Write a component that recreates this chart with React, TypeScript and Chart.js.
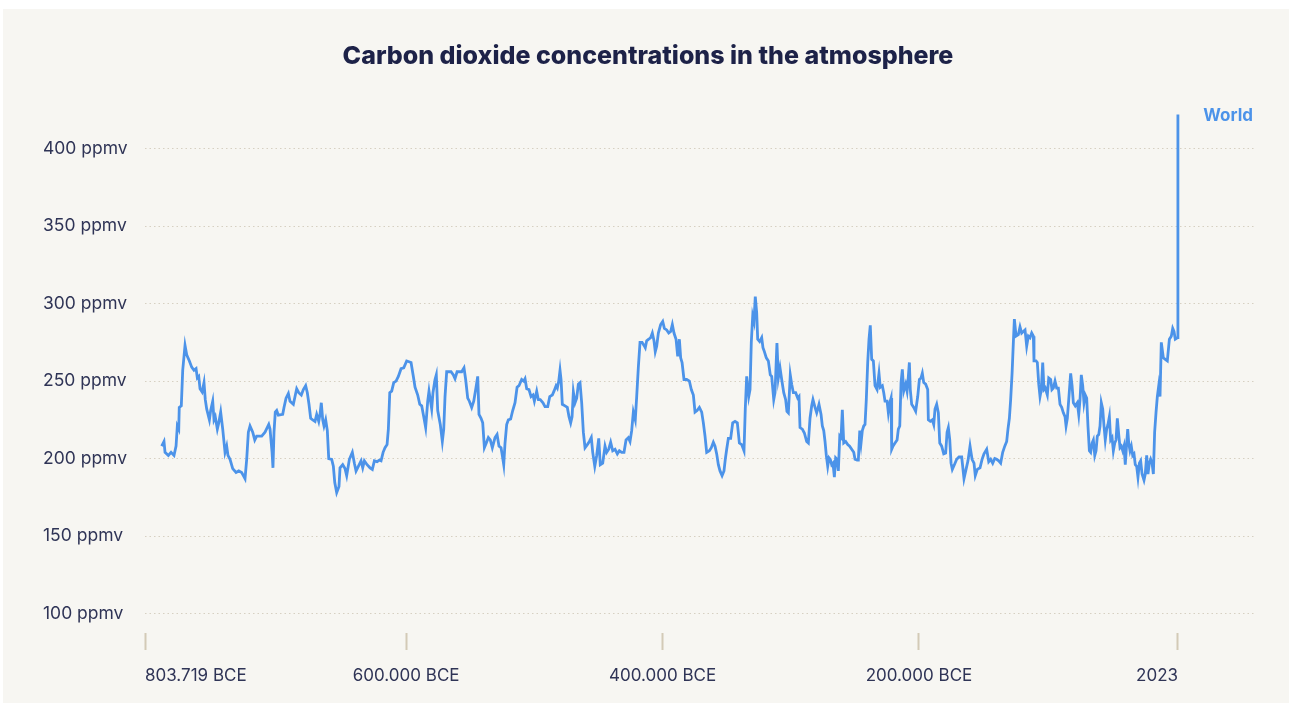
import { useEffect, useRef } from "react";
import { Chart, registerables } from "chart.js";

Chart.register(...registerables);

const chartTitle = "Carbon dioxide concentrations in the atmosphere";
const seriesName = "World";

const years: number[] = [
  -790700, -788900, -788100, -785500, -783400, -781100, -779500, -778500, -777400, -777000,
  -775400, -774300, -772500, -771200, -769100, -767300, -765500, -763900, -762900, -761800,
  -760800, -759200, -757700, -756700, -755600, -753500, -752500, -750900, -749900, -748900,
  -747300, -746200, -744700, -743100, -741300, -740000, -739000, -737400, -735300, -732700,
  -730600, -728300, -727000, -725700, -724400, -723100, -721800, -719700, -718100, -716600,
  -712700, -710100, -707200, -706200, -704600, -703900, -703100, -702100, -701000, -699700,
  -696300, -695300, -693700, -691900, -690600, -688000, -686700, -685400, -683800, -681800,
  -680200, -678400, -677100, -675800, -674500, -672900, -671100, -669800, -668200, -667200,
  -666200, -665100, -664100, -662800, -661500, -660400, -658100, -656800, -655700, -654200,
  -652400, -651600, -649500, -647700, -646400, -644300, -642000, -640400, -639100, -637300,
  -635200, -633900, -632600, -630500, -628200, -626400, -624800, -622700, -620900, -619600,
  -618000, -616500, -614900, -613900, -612800, -611300, -609700, -607900, -606100, -604000,
  -601900, -599600, -597800, -596200, -594400, -593100, -591000, -589400, -587900, -586300,
  -584800, -583200, -582200, -581200, -580100, -579100, -577500, -576500, -575400, -573400,
  -571800, -570700, -569700, -568400, -566600, -565000, -563200, -561900, -560300, -558800,
  -556700, -554900, -553600, -552000, -550700, -548900, -547300, -545500, -544200, -543200,
  -541600, -540300, -539000, -537500, -535900, -534400, -532800, -530700, -529100, -527600,
  -526000, -525000, -523900, -522900, -521600, -520300, -518500, -516900, -515100, -513500,
  -512000, -509900, -508300, -507300, -506000, -504200, -502600, -501100, -500000, -498200,
  -496900, -495400, -493300, -491700, -489600, -488000, -486000, -484700, -483100, -482100,
  -481000, -480000, -479200, -478200, -476100, -474300, -473000, -471700, -470600, -469600,
  -468300, -467000, -465700, -464400, -463100, -461800, -460500, -458700, -457100, -455600,
  -454500, -452900, -451400, -449800, -448600, -446700, -444900, -443600, -442000, -440500,
  -438900, -437100, -435300, -433700, -431900, -430100, -428500, -426700, -425400, -424100,
  -422800, -421300, -420200, -418900, -417600, -416000, -414500, -413500, -412400, -410800,
  -409300, -408000, -406700, -405700, -404600, -403300, -401500, -399900, -398600, -396800,
  -395200, -393700, -392400, -391100, -389500, -388200, -386900, -385900, -384800, -383300,
  -381200, -379100, -377600, -376000, -374700, -373100, -371300, -369500, -368200, -366900,
  -365600, -363500, -362000, -360400, -359100, -357800, -356500, -355200, -353600, -352100,
  -351100, -350000, -348700, -346900, -345300, -343500, -341700, -340100, -338300, -336500,
  -335500, -334400, -332800, -331800, -330800, -329700, -328700, -327700, -326600, -325800,
  -324300, -322700, -321700, -320600, -319100, -317500, -316000, -314900, -313300, -312300,
  -310800, -309700, -308400, -307100, -305500, -304000, -303000, -301900, -300400, -299300,
  -298000, -296200, -294600, -293600, -292800, -291000, -289400, -287600, -286300, -285000,
  -283700, -282700, -281100, -279800, -278000, -276400, -275400, -274300, -273300, -272300,
  -271200, -270200, -269200, -268100, -267100, -266000, -265000, -263900, -262900, -261800,
  -260800, -259800, -258700, -257200, -255600, -254100, -252500, -250900, -249900, -248300,
  -247300, -246200, -245200, -244200, -243100, -242100, -241100, -240000, -239000, -238000,
  -236900, -235600, -234300, -232700, -231200, -230200, -228600, -227500, -226500, -224900,
  -223900, -222800, -221800, -221300, -220300, -218700, -217100, -216100, -215000, -214000,
  -213000, -211900, -210400, -209300, -208300, -207500, -206800, -205700, -204100, -202600,
  -201000, -199700, -198400, -197400, -196300, -194800, -193200, -192700, -191200, -189600,
  -188500, -187500, -186200, -184900, -183800, -182300, -180700, -179200, -178100, -177100,
  -176000, -175000, -174000, -172400, -170600, -168800, -166700, -164900, -163300, -161800,
  -160200, -158600, -157100, -156100, -154500, -152400, -150800, -149300, -147200, -145600,
  -144100, -142500, -140900, -139400, -137800, -136300, -134700, -133100, -131600, -130600,
  -129500, -128500, -127400, -126400, -125600, -124300, -122500, -121200, -119900, -118600,
  -117300, -116000, -114700, -113400, -112100, -110800, -110300, -108700, -107700, -106600,
  -105600, -104600, -103500, -102500, -101500, -99900, -98800, -97300, -96300, -95200,
  -93900, -92600, -91300, -90000, -88700, -87400, -86100, -85300, -84300, -83200,
  -81700, -80600, -79600, -78100, -76500, -75400, -74400, -73400, -72300, -71300,
  -70300, -69200, -68200, -67100, -66100, -65000, -64000, -62900, -61900, -60900,
  -59800, -58800, -57800, -56700, -55700, -54700, -53600, -52600, -51500, -50500,
  -49400, -48400, -47300, -46300, -45300, -44200, -43200, -42200, -41100, -40100,
  -39100, -38000, -37200, -36400, -35400, -34400, -33300, -32300, -31300, -30200,
  -29200, -28100, -27100, -26000, -24500, -23500, -22400, -21400, -20300, -19300,
  -18200, -17200, -16200, -15100, -14100, -13000, -12000, -11000, -9400, -7900,
  -6300, -4700, -3200, -2100, -1100, -100, 1750, 1850, 1900, 1950,
  1970, 1990, 2000, 2010, 2023,
];

const ppmv: number[] = [
  208, 211, 204, 202, 204, 202, 208, 221, 219, 233,
  234, 257, 273, 267, 263, 259, 257, 258, 252, 253,
  245, 243, 249, 238, 232, 225, 231, 237, 225, 227,
  219, 223, 230, 219, 204, 208, 202, 199.5, 193.5, 191,
  192, 191, 189, 187, 199.5, 217, 221, 217, 212, 214.5,
  214.5, 217, 222, 219, 204, 194, 217, 230, 231, 228,
  228.5, 233, 239, 242, 237, 235, 240, 245, 242.5, 241,
  244.5, 247, 242.5, 235, 226, 225, 224, 228.5, 224, 228.5,
  236, 225, 221, 225, 218, 200, 199.5, 195, 184.5, 178,
  182, 194, 196, 193.5, 189, 199.5, 204, 197, 192, 195,
  198.5, 194, 198.5, 196, 194, 193, 198.5, 198, 199, 198.5,
  204, 207, 209, 219, 242.5, 243.5, 249, 250, 253, 258,
  258.5, 263, 262.5, 262, 253, 246, 241, 235, 234, 227,
  220, 237, 243.5, 238, 232, 242.5, 251, 254, 231, 222,
  211, 219, 240, 256, 256, 256, 254, 251.5, 256, 256,
  256, 258.5, 251, 239, 237, 233, 237, 246, 253, 228.5,
  226, 223, 207, 210, 213.5, 212, 207, 213.5, 215.5, 208,
  207, 202, 196, 210, 222, 225, 225.5, 231, 236, 246,
  247, 251, 250, 251.5, 245, 244.5, 240, 241, 237, 243.5,
  238, 238, 236, 233.5, 233.5, 240, 241, 243.5, 247, 245.5,
  250, 257, 251, 235, 234, 233, 227, 223, 227, 243,
  236, 239, 248, 249, 236, 217, 207, 209, 211, 213.5,
  204, 195, 202, 213, 196, 197, 208, 204, 206, 210.5,
  205, 206, 203, 205, 204, 204, 212, 213.5, 211, 218,
  230, 225, 240, 259, 275, 275, 273, 271.5, 276, 277,
  278, 281, 276, 269, 272.5, 281, 286.5, 288.5, 284, 283,
  281, 282, 286.5, 281, 277, 266, 277, 265, 262, 251,
  251, 250, 244.5, 241, 230, 231, 233, 230, 223, 214.5,
  204, 205, 207, 210.5, 208, 203, 196, 192, 189, 192,
  199.5, 206, 213, 213, 223, 224, 223, 210, 209, 205,
  232, 253, 240, 244.5, 275, 292, 288.5, 304.5, 294, 277,
  275.5, 278, 271.5, 269, 265, 263, 254, 253, 238, 242.5,
  274.5, 252, 258.5, 251, 242.5, 238, 230.5, 229.5, 254, 248,
  242.5, 242.5, 239, 240, 220, 219, 216.5, 211, 210, 226,
  234, 238, 233, 229.5, 235, 228.5, 221, 218, 211, 202,
  195, 200.5, 199.5, 196, 197, 188, 200.5, 199.5, 192, 214.5,
  213.5, 231.5, 210, 211, 209, 208, 206, 204, 199.5, 199,
  199, 218, 210, 218, 221, 222, 238, 262, 277, 286,
  264, 263, 247, 244.5, 255, 246, 247, 242.5, 237, 237,
  229.5, 236, 239, 206, 208, 210, 212, 219, 221, 249,
  257.5, 243.5, 248, 243.5, 253, 262, 244.5, 235, 233, 230.5,
  240, 251, 252, 255, 249, 248, 244.5, 225, 224, 225,
  222, 232, 235, 229.5, 210, 208, 203, 203.5, 217, 220,
  212, 197, 193, 196, 199.5, 201, 201, 187, 193, 198.5,
  208, 199.5, 197, 189, 193, 194, 199.5, 203, 206, 198,
  199.5, 197, 200, 199.5, 198.5, 197, 204, 208, 211, 219,
  226, 238, 255, 275, 290, 279, 280, 285, 281, 282,
  283, 272.5, 279, 278, 281, 279, 263, 263, 262, 248,
  240, 244.5, 262, 244.5, 245.5, 241, 252, 251, 244.5, 245.5,
  250, 245.5, 245.5, 235, 233, 229.5, 227, 221, 226, 238,
  255, 247, 236, 234, 236, 228.5, 238, 254, 247, 236,
  241, 239, 221, 205, 204, 210, 212, 202, 205, 214.5,
  215.5, 221, 236, 232, 221, 212, 219, 222, 227, 212,
  213.5, 205, 210, 212, 226, 215.5, 207, 208, 205, 208,
  196, 210, 219, 210, 205, 208, 202, 203, 196, 195,
  188, 197, 198.5, 190, 186, 190, 202, 190, 197, 199.5,
  197, 190, 217, 230, 240, 247, 240, 275, 265, 264,
  263, 277, 279, 284, 282, 277, 278, 285, 296, 311,
  325, 354, 369, 389, 422,
];

const xTickValues = [-803719, -600000, -400000, -200000, 2023];
const xTickLabels = ["803.719 BCE", "600.000 BCE", "400.000 BCE", "200.000 BCE", "2023"];
const yTickValues = [100, 150, 200, 250, 300, 350, 400];
const yUnit = "ppmv";

const LINE_COLOR = "#4c93e9";
const TEXT_COLOR = "#2f3456";
const TITLE_COLOR = "#1d2248";
const PANEL_COLOR = "#f7f6f2";
const FONT = "Inter, 'Noto Sans', sans-serif";

export default function App() {
  const canvasRef = useRef<HTMLCanvasElement | null>(null);

  useEffect(() => {
    document.body.style.margin = "0";
    const canvas = canvasRef.current;
    if (!canvas) return;

    const decor = {
      id: "decor",
      beforeDraw(chart: any) {
        const ctx = chart.ctx;
        ctx.save();
        ctx.fillStyle = PANEL_COLOR;
        ctx.fillRect(3, 9, chart.width - 3, chart.height - 12);
        ctx.fillStyle = TITLE_COLOR;
        ctx.font = `800 25px ${FONT}`;
        ctx.textAlign = "center";
        ctx.textBaseline = "middle";
        ctx.fillText(chartTitle, 648, 56);
        ctx.restore();
      },
      afterDatasetsDraw(chart: any) {
        const meta = chart.getDatasetMeta(0);
        const last = meta.data[meta.data.length - 1];
        if (!last) return;
        const ctx = chart.ctx;
        ctx.save();
        ctx.fillStyle = LINE_COLOR;
        ctx.font = `700 17px ${FONT}`;
        ctx.textAlign = "right";
        ctx.textBaseline = "middle";
        ctx.fillText(seriesName, chart.chartArea.right - 2, last.y + 1);
        ctx.restore();
      },
    };

    const chart = new Chart(canvas, {
      type: "line",
      data: {
        datasets: [
          {
            label: seriesName,
            data: years.map((x, i) => ({ x, y: ppmv[i] })),
            borderColor: LINE_COLOR,
            borderWidth: 2.8,
            pointRadius: 0,
            tension: 0,
            fill: false,
          },
        ],
      },
      options: {
        responsive: false,
        animation: false,
        events: [],
        layout: { padding: { top: 100, left: 43, right: 34, bottom: 0 } },
        plugins: {
          legend: { display: false },
          tooltip: { enabled: false },
          title: { display: false },
        },
        scales: {
          x: {
            type: "linear",
            min: -803719,
            max: 62085,
            afterBuildTicks(scale: any) {
              scale.ticks = xTickValues.map((value) => ({ value }));
            },
            afterFit(scale: any) {
              scale.height = 73;
            },
            ticks: {
              autoSkip: false,
              maxRotation: 0,
              align: "inner",
              padding: 16,
              color: TEXT_COLOR,
              font: { family: FONT, size: 17 },
              callback: (value: any) => {
                const i = xTickValues.indexOf(Number(value));
                return i >= 0 ? xTickLabels[i] : "";
              },
            },
            grid: {
              drawOnChartArea: false,
              drawTicks: true,
              tickLength: 17,
              tickColor: "#d3cab7",
              tickWidth: 2,
            },
            border: { display: false },
          },
          y: {
            type: "linear",
            min: 87.4,
            max: 431.4,
            afterBuildTicks(scale: any) {
              scale.ticks = yTickValues.map((value) => ({ value }));
            },
            afterFit(scale: any) {
              scale.width = 102;
            },
            ticks: {
              crossAlign: "far",
              color: TEXT_COLOR,
              font: { family: FONT, size: 17.5 },
              callback: (value: any) => `${value} ${yUnit}`,
            },
            grid: {
              color: "#d6d0c2",
              lineWidth: 1,
              drawTicks: false,
            },
            border: { display: false, dash: [1.5, 3] },
          },
        },
      },
      plugins: [decor],
    } as any);

    return () => chart.destroy();
  }, []);

  return (
    <canvas
      ref={canvasRef}
      width={1289}
      height={706}
      style={{ display: "block", width: 1289, height: 706 }}
    />
  );
}
